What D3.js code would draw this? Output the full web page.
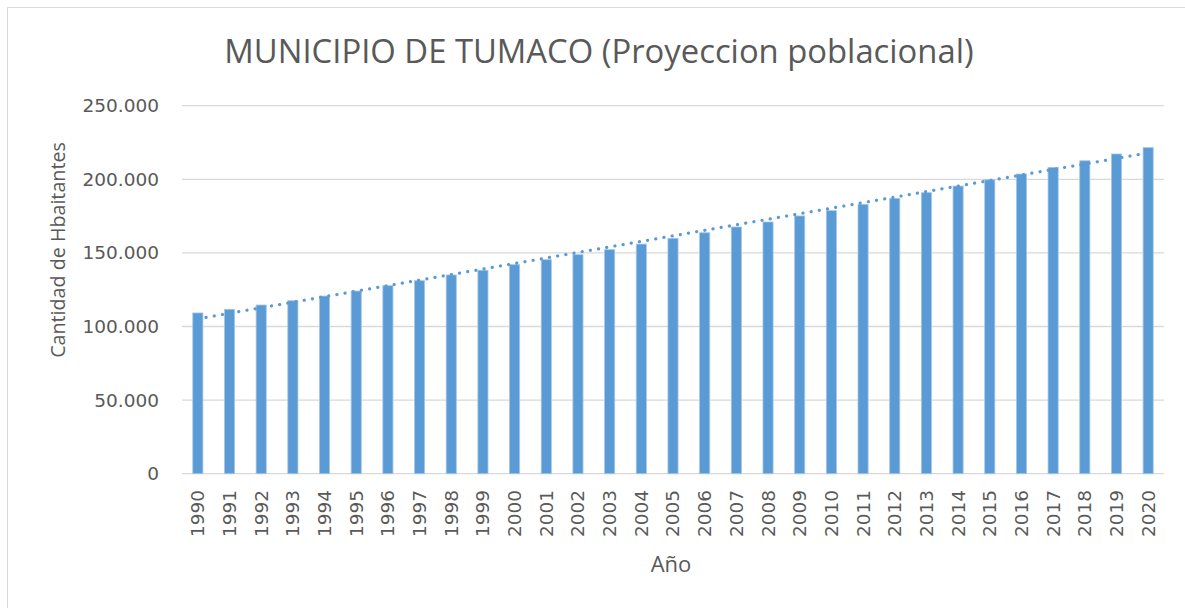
<!DOCTYPE html>
<html>
<head>
<meta charset="utf-8">
<script src="https://cdn.jsdelivr.net/npm/d3@7"></script>
<style>
  body { margin: 0; background: #fff; }
  text { font-family: "Open Sans", sans-serif; fill: #595959; }
  .tick { font-family: "DejaVu Sans", sans-serif; font-size: 18.5px; }
</style>
</head>
<body>
<div id="chart"></div>
<script>
// datos
const years = [1990, 1991, 1992, 1993, 1994, 1995, 1996, 1997, 1998, 1999,
  2000, 2001, 2002, 2003, 2004, 2005, 2006, 2007, 2008, 2009,
  2010, 2011, 2012, 2013, 2014, 2015, 2016, 2017, 2018, 2019, 2020]
const habitantes = [109200, 111700, 114600, 117500, 120700, 124100, 127700, 131100, 135000, 138200,
  142000, 145400, 148800, 152200, 156000, 159900, 163700, 167600, 171000, 175100,
  178700, 183000, 187100, 190900, 195400, 199700, 203600, 208100, 212600, 217200, 221500]
const yTicks = [0, 50000, 100000, 150000, 200000, 250000]

const width = 1185
const height = 608
const margin = { top: 105.7, bottom: 134.3, left: 182, right: 21 }

const svg = d3.select("div#chart").append("svg").attr("width", width).attr("height", height)

// borde del area del grafico
svg.append("path")
  .attr("d", `M7.5,${height + 5} V7.5 H${width + 5}`)
  .attr("fill", "none").attr("stroke", "#d9d9d9").attr("stroke-width", 1)

const x = d3.scaleBand().domain(years).range([margin.left, width - margin.right])
  .paddingInner(0.68).paddingOuter(0.34)
const y = d3.scaleLinear().domain([0, 250000]).range([height - margin.bottom, margin.top])

const fmt = d => d3.format(",")(d).replace(/,/g, ".")

// lineas de cuadricula
svg.append("g").selectAll("line").data(yTicks).join("line")
  .attr("x1", margin.left).attr("x2", width - margin.right)
  .attr("y1", d => y(d)).attr("y2", d => y(d))
  .attr("stroke", "#d9d9d9").attr("stroke-width", 1.3)

// etiquetas eje y
svg.append("g").selectAll("text").data(yTicks).join("text")
  .attr("class", "tick")
  .attr("x", 159).attr("y", d => y(d)).attr("dy", "0.35em")
  .attr("text-anchor", "end")
  .text(d => fmt(d))

// barras
const data = years.map((yr, i) => ({ year: yr, value: habitantes[i] }))
svg.append("g").selectAll("rect").data(data).join("rect")
  .attr("x", d => x(d.year)).attr("width", x.bandwidth())
  .attr("y", d => y(d.value)).attr("height", d => y(0) - y(d.value))
  .attr("fill", "#5b9bd5").attr("stroke", "#a7c6e8").attr("stroke-width", 0.8)

// linea de tendencia (regresion lineal)
const n = data.length
const xs = data.map((d, i) => i)
const mx = d3.mean(xs), my = d3.mean(habitantes)
const slope = d3.sum(xs, (v, i) => (v - mx) * (habitantes[i] - my)) / d3.sum(xs, v => (v - mx) ** 2)
const inter = my - slope * mx
const trend = [0, n - 1].map(i => [x(years[i]) + x.bandwidth() / 2, y(inter + slope * i)])
svg.append("path")
  .attr("d", d3.line()(trend))
  .attr("fill", "none").attr("stroke", "#5b9bd5").attr("stroke-width", 3.2)
  .attr("stroke-linecap", "round").attr("stroke-dasharray", "0.1 8.2")

// etiquetas eje x
svg.append("g").selectAll("text").data(years).join("text")
  .attr("class", "tick")
  .attr("transform", d => `translate(${x(d) + x.bandwidth() / 2},490) rotate(-90)`)
  .attr("dy", "0.35em").attr("text-anchor", "end")
  .text(d => d)

// titulos
svg.append("text").attr("x", 599).attr("y", 63).attr("text-anchor", "middle")
  .style("font-size", "32.8px").text("MUNICIPIO DE TUMACO (Proyeccion poblacional)")

svg.append("text").attr("transform", "translate(65,250) rotate(-90)")
  .attr("text-anchor", "middle").style("font-size", "19.7px").text("Cantidad de Hbaitantes")

svg.append("text").attr("x", 671).attr("y", 572).attr("text-anchor", "middle")
  .style("font-size", "22px").text("Año")
</script>
</body>
</html>
